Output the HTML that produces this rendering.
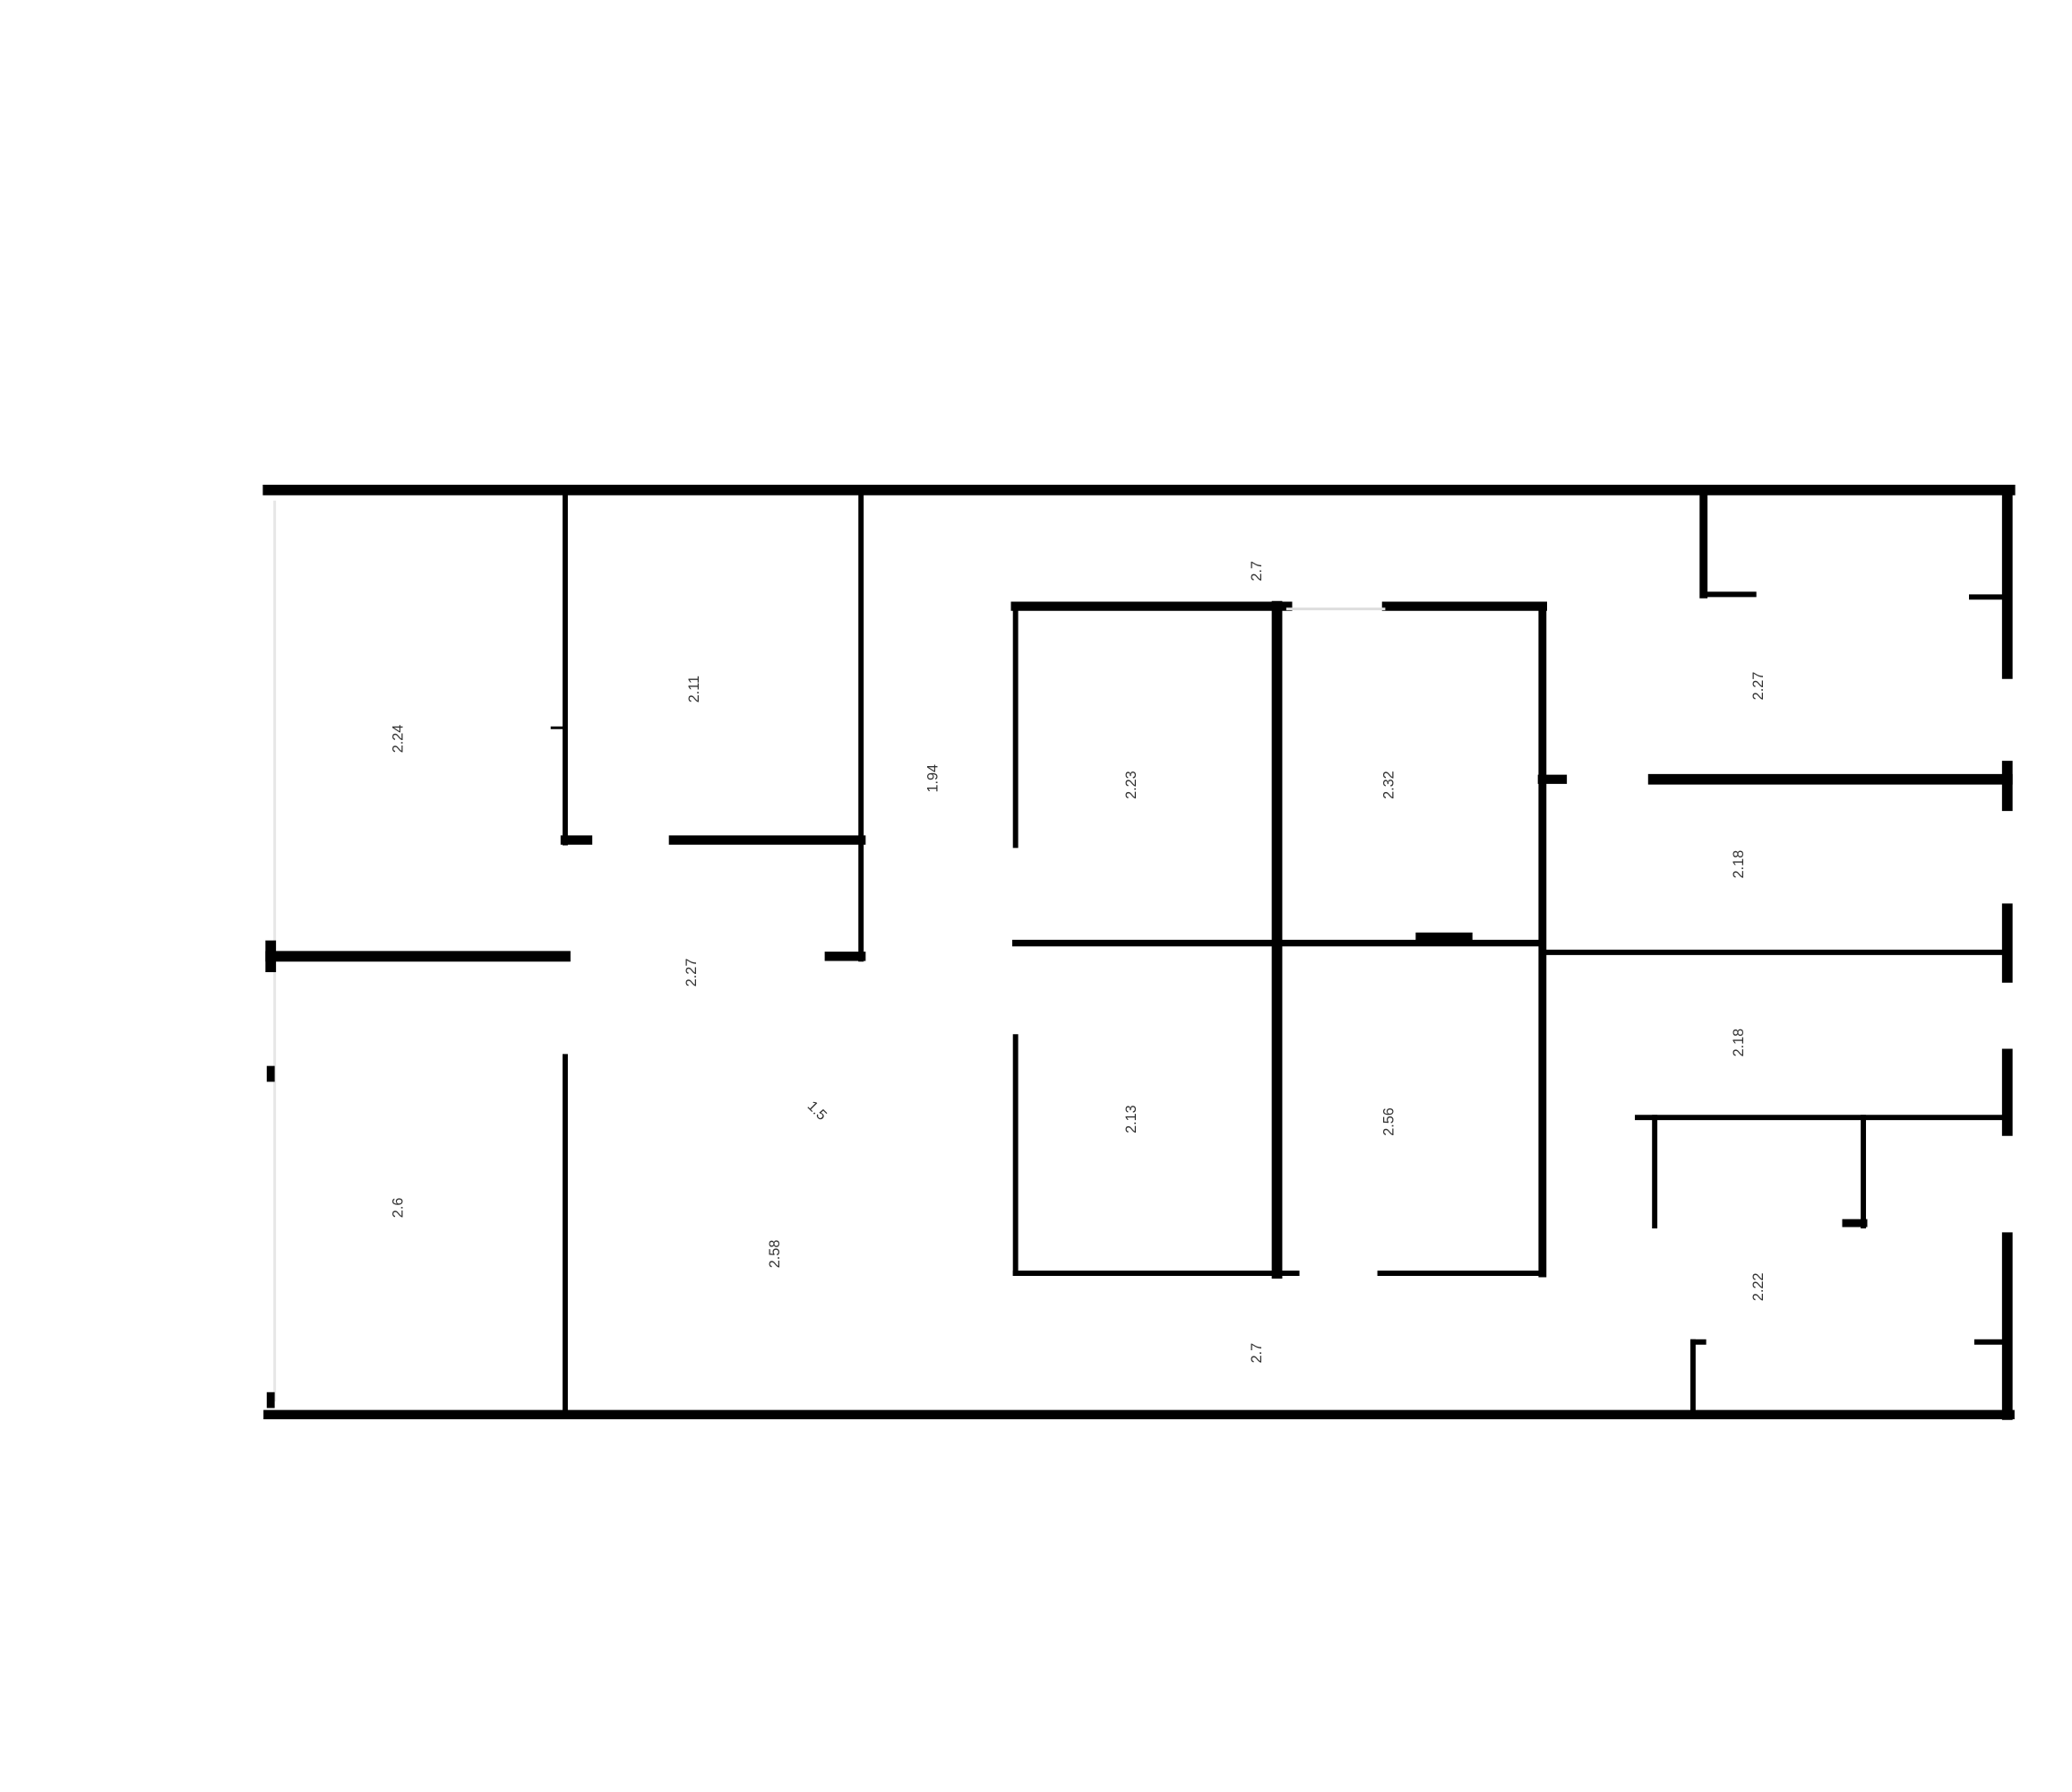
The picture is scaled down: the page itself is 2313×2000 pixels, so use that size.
<!DOCTYPE html>
<html><head><meta charset="utf-8"><style>
html,body{margin:0;padding:0;background:#fff;}
svg{display:block;}
text{font-family:"Liberation Sans",sans-serif;fill:#333;font-size:11px;}
</style></head><body>
<svg width="2313" height="2000" viewBox="0 0 1569 1356.7" preserveAspectRatio="none" xmlns="http://www.w3.org/2000/svg">
<rect width="1570" height="1357" fill="#fff"/>
<g stroke="#000" fill="none" stroke-linecap="square">
<line x1="203" y1="371" x2="1522" y2="371" stroke-width="8"/>
<line x1="203" y1="1071" x2="1522" y2="1071" stroke-width="7"/>
<line x1="1520" y1="371" x2="1520" y2="510" stroke-width="8"/>
<line x1="1520" y1="580" x2="1520" y2="610" stroke-width="8"/>
<line x1="1520" y1="688" x2="1520" y2="740" stroke-width="8"/>
<line x1="1520" y1="798" x2="1520" y2="856" stroke-width="8"/>
<line x1="1520" y1="937" x2="1520" y2="1071" stroke-width="8"/>
<line x1="208" y1="380" x2="208" y2="1060" stroke="#e6e6e6" stroke-width="2"/>
<line x1="205" y1="716" x2="205" y2="732" stroke-width="8"/>
<line x1="205" y1="810" x2="205" y2="816" stroke-width="6"/>
<line x1="205" y1="1057" x2="205" y2="1063" stroke-width="6"/>
<line x1="205" y1="724" x2="428" y2="724" stroke-width="8"/>
<line x1="428" y1="371" x2="428" y2="638" stroke-width="4"/>
<line x1="428" y1="800" x2="428" y2="1071" stroke-width="4"/>
<line x1="428" y1="636" x2="445" y2="636" stroke-width="7"/>
<line x1="510" y1="636" x2="652" y2="636" stroke-width="7"/>
<line x1="652" y1="371" x2="652" y2="726" stroke-width="4"/>
<line x1="628" y1="724" x2="652" y2="724" stroke-width="7"/>
<line x1="418" y1="551" x2="428" y2="551" stroke-width="2"/>
<line x1="769" y1="459" x2="975" y2="459" stroke-width="7"/>
<line x1="1050" y1="459" x2="1168" y2="459" stroke-width="7"/>
<line x1="975" y1="461" x2="1048" y2="461" stroke="#ddd" stroke-width="2"/>
<line x1="769" y1="459" x2="769" y2="640" stroke-width="4"/>
<line x1="769" y1="785" x2="769" y2="964" stroke-width="4"/>
<line x1="967" y1="459" x2="967" y2="964" stroke-width="8"/>
<line x1="1168" y1="459" x2="1168" y2="964" stroke-width="6"/>
<line x1="769" y1="714" x2="1168" y2="714" stroke-width="5"/>
<line x1="1075" y1="709" x2="1112" y2="709" stroke-width="6"/>
<line x1="769" y1="964" x2="982" y2="964" stroke-width="4"/>
<line x1="1045" y1="964" x2="1168" y2="964" stroke-width="4"/>
<line x1="1168" y1="590" x2="1183" y2="590" stroke-width="7"/>
<line x1="1252" y1="590" x2="1520" y2="590" stroke-width="8"/>
<line x1="1168" y1="721" x2="1520" y2="721" stroke-width="4"/>
<line x1="1240" y1="846" x2="1520" y2="846" stroke-width="4"/>
<line x1="1253" y1="846" x2="1253" y2="928" stroke-width="4"/>
<line x1="1411" y1="846" x2="1411" y2="928" stroke-width="4"/>
<line x1="1398" y1="926" x2="1411" y2="926" stroke-width="6"/>
<line x1="1290" y1="371" x2="1290" y2="450" stroke-width="6"/>
<line x1="1290" y1="450" x2="1328" y2="450" stroke-width="4"/>
<line x1="1493" y1="452" x2="1520" y2="452" stroke-width="4"/>
<line x1="1282" y1="1016" x2="1282" y2="1071" stroke-width="4"/>
<line x1="1282" y1="1016" x2="1290" y2="1016" stroke-width="4"/>
<line x1="1497" y1="1016" x2="1520" y2="1016" stroke-width="4"/>
</g>
<g>
<text x="285" y="560" transform="rotate(-90 300 555)">2.24</text>
<text x="505" y="522" transform="rotate(-90 522 515)">2.11</text>
<text x="690" y="590" transform="rotate(-90 705 585)">1.94</text>
<text x="840" y="595" transform="rotate(-90 855 590)">2.23</text>
<text x="1035" y="595" transform="rotate(-90 1050 590)">2.32</text>
<text x="1315" y="520" transform="rotate(-90 1330 515)">2.27</text>
<text x="1300" y="655" transform="rotate(-90 1315 650)">2.18</text>
<text x="505" y="735" transform="rotate(-90 522 730)">2.27</text>
<text x="1300" y="790" transform="rotate(-90 1315 785)">2.18</text>
<text x="840" y="848" transform="rotate(-90 855 843)">2.13</text>
<text x="1035" y="850" transform="rotate(-90 1050 845)">2.56</text>
<text x="285" y="912" transform="rotate(-90 300 907)">2.6</text>
<text x="565" y="945" transform="rotate(-90 585 940)">2.58</text>
<text x="1315" y="975" transform="rotate(-90 1330 970)">2.22</text>
<text x="935" y="1022" transform="rotate(-90 950 1017)">2.7</text>
<text x="935" y="430" transform="rotate(-90 950 425)">2.7</text>
<text x="610" y="850" transform="rotate(45 625 845)">1.5</text>
</g>
</svg>
</body></html>
